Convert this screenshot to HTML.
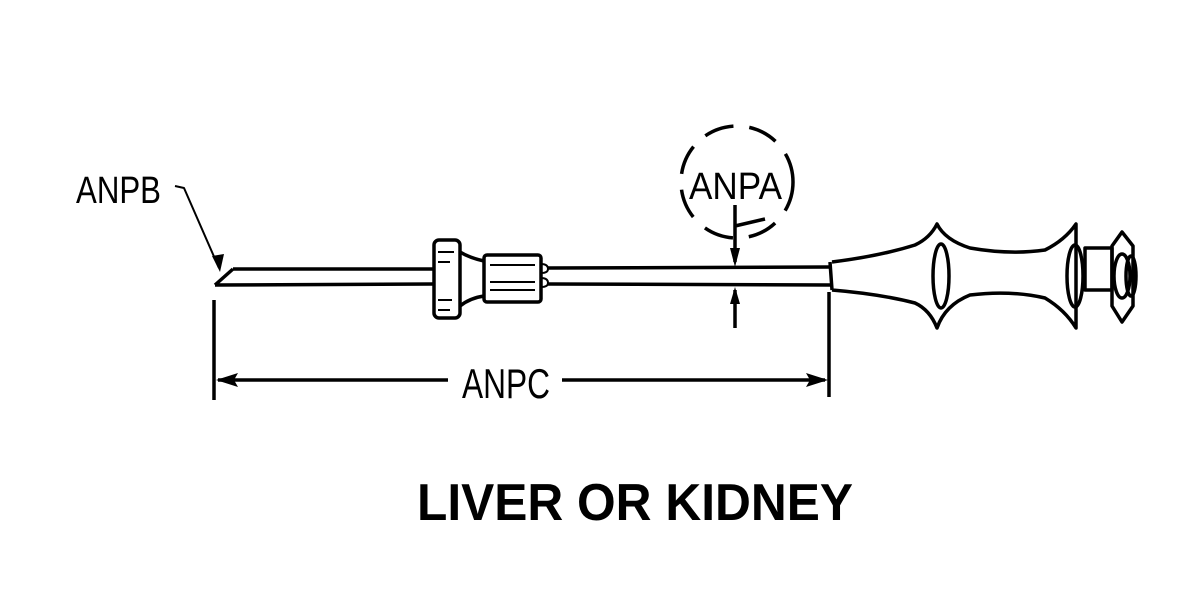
<!DOCTYPE html>
<html><head><meta charset="utf-8"><style>html,body{margin:0;padding:0;background:#fff}svg{display:block}</style></head><body>
<svg width="1200" height="600" viewBox="0 0 1200 600" xmlns="http://www.w3.org/2000/svg">
<g fill="none" stroke="#000" stroke-width="3.5" stroke-linejoin="round">
<path d="M233 269 L433 269 M215 285 L433 284 M215 285 L233 269"/>
<rect x="434" y="240" width="26" height="78" rx="5"/>
<path d="M438 252h16 M438 262h12 M438 300h14 M438 310h12" stroke-width="2"/>
<path d="M460 252 Q470 258 484 261 M460 306 Q470 298 484 296"/>
<rect x="484" y="255" width="57" height="47" rx="3"/>
<path d="M490 265h45 M490 282h45 M490 290h45" stroke-width="2"/>
<path d="M541 264 q7 0 7 5 q0 4 -7 4 M541 278 q7 0 7 5 q0 4 -7 4" stroke-width="2"/>
<path d="M548 268 L830 267 M548 284 L830 285"/>
<path d="M830 262 L832 290 M832 262 Q880 256 915 245 Q930 238 937 224 Q945 240 970 248 Q1010 255 1045 250 Q1065 240 1076 224 L1076 328 Q1065 310 1045 298 Q1010 290 970 295 Q945 305 937 328 Q930 310 915 303 Q880 294 832 290"/>
<ellipse cx="941" cy="276" rx="8" ry="32"/>
<ellipse cx="1075" cy="276" rx="8" ry="31"/>
<rect x="1085" y="248" width="27" height="42"/>
<path d="M1122 232 L1133 246 L1133 306 L1122 322 L1112 306 L1112 246 Z"/>
<ellipse cx="1122" cy="276" rx="8" ry="22"/>
<ellipse cx="1131" cy="276" rx="5" ry="20"/>
<circle cx="737" cy="182" r="56" stroke-dasharray="30 16"/>
<path d="M735 205 L735 262 M735 226 L765 219 M735 290 L735 328"/>
<path d="M175 186 L184 188 L219 268" stroke-width="2"/>
<path d="M214 300 L214 400 M829 292 L829 397 M218 380 L448 380 M562 380 L825 380"/>
</g>
<g fill="#000">
<path d="M735 267 L730 248 L740 248 Z"/>
<path d="M735 287 L730 304 L740 304 Z"/>
<path d="M220 272 L212 256 L224 254 Z"/>
<path d="M216 380 L238 373 L234 380 L238 387 Z"/>
<path d="M828 380 L806 373 L810 380 L806 387 Z"/>
</g>
<g font-family="Liberation Sans, sans-serif" fill="#000">
<text x="76" y="203" font-size="38" textLength="85" lengthAdjust="spacingAndGlyphs">ANPB</text>
<text x="689" y="199" font-size="38" textLength="93" lengthAdjust="spacingAndGlyphs">ANPA</text>
<text x="462" y="398" font-size="42" textLength="88" lengthAdjust="spacingAndGlyphs">ANPC</text>
<text x="417" y="520" font-size="52" font-weight="bold" textLength="436" lengthAdjust="spacingAndGlyphs">LIVER OR KIDNEY</text>
</g>
</svg>
</body></html>
